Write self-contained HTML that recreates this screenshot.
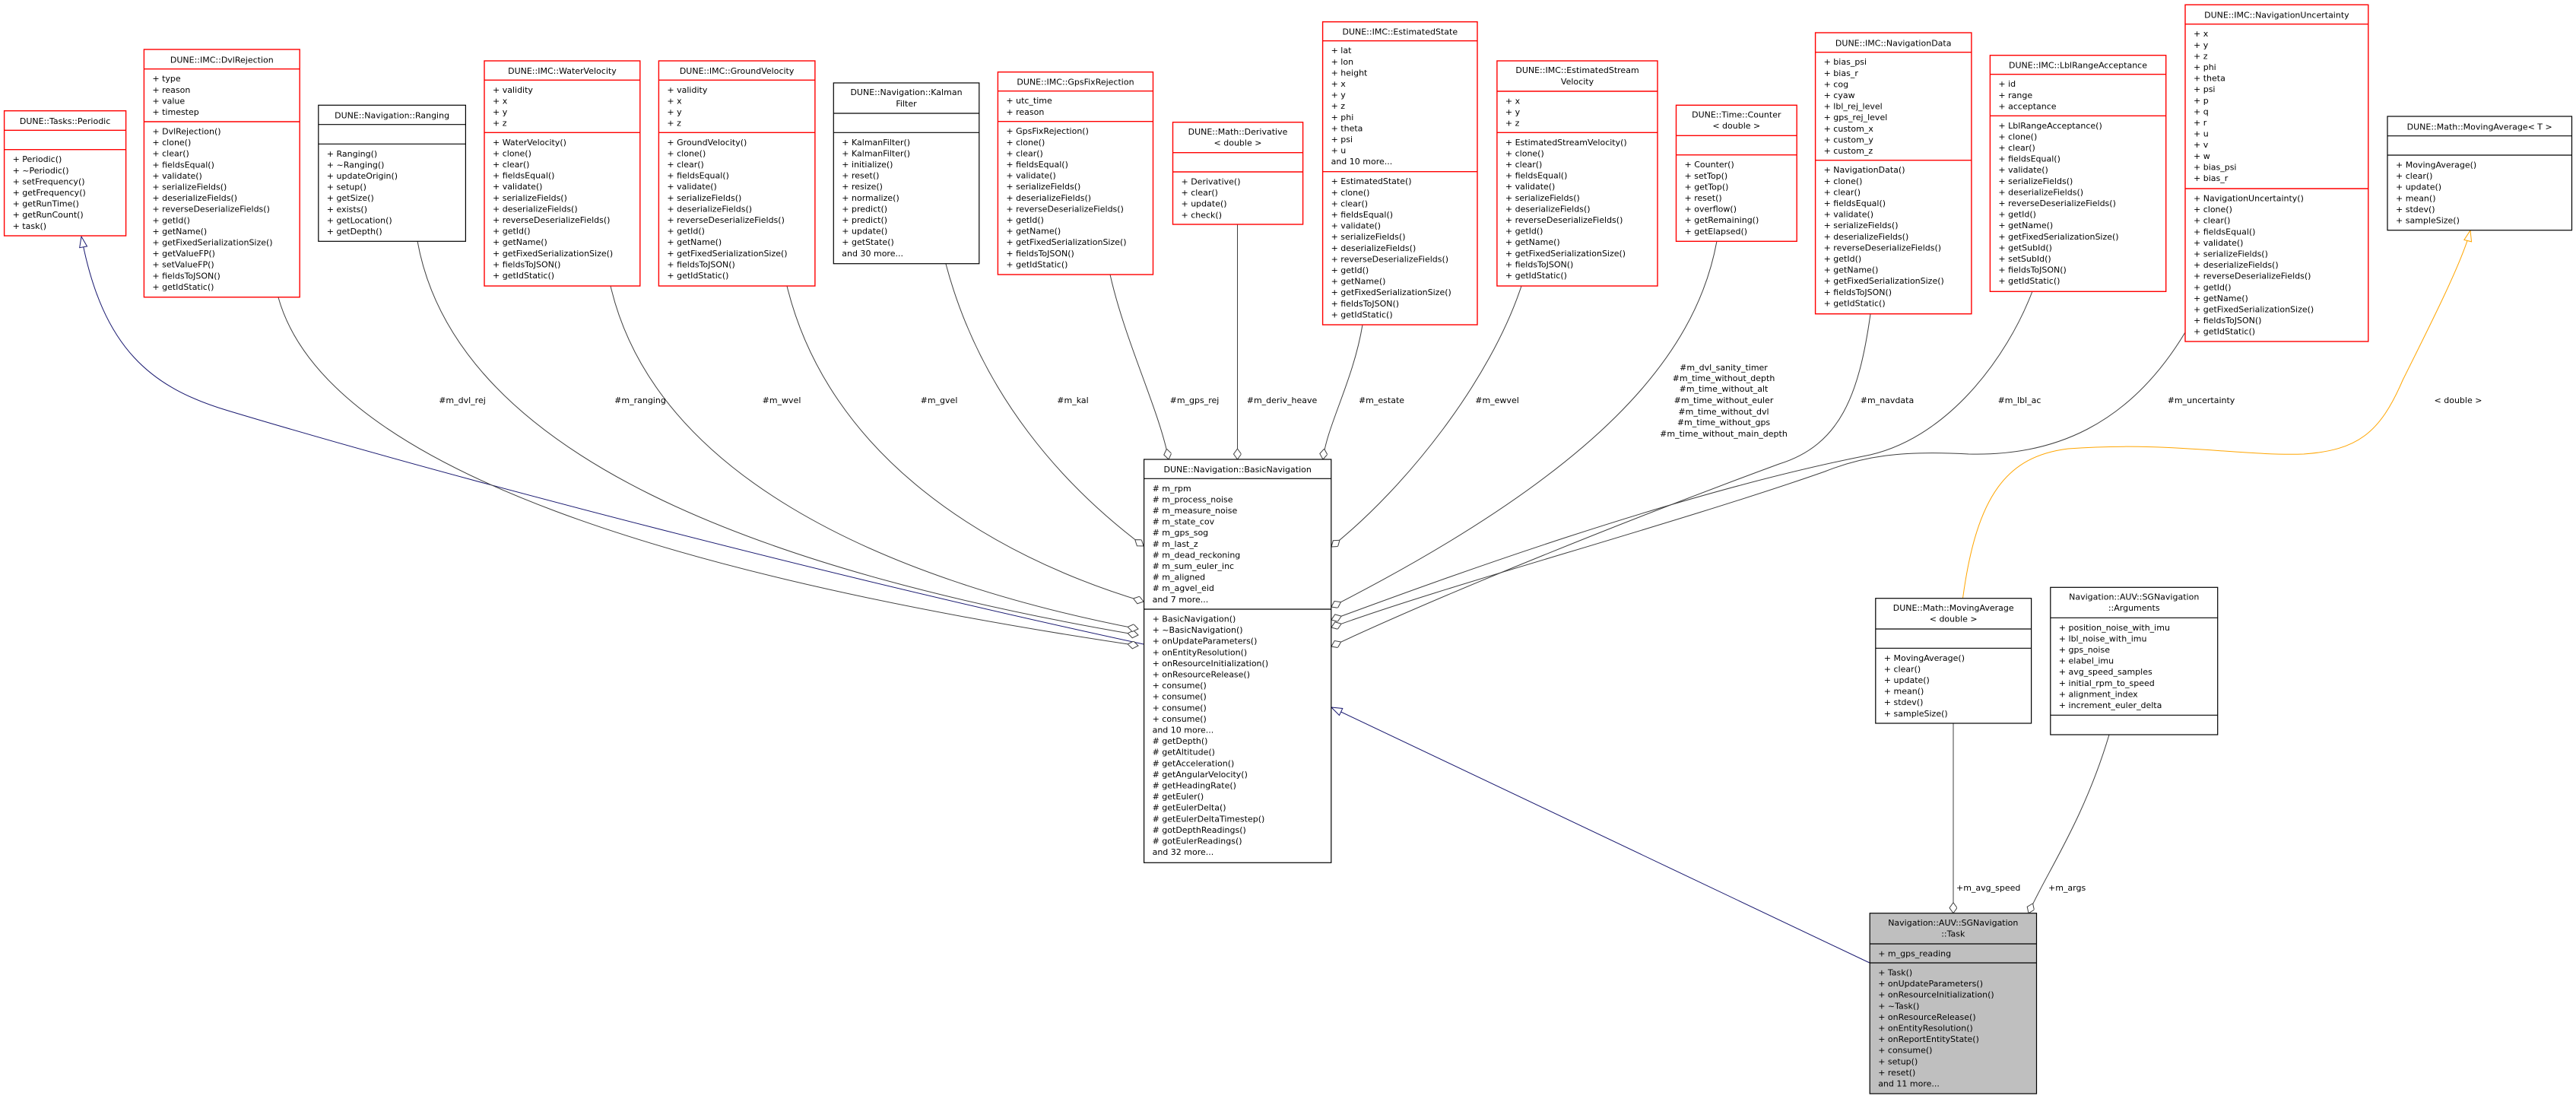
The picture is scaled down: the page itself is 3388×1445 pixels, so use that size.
<!DOCTYPE html>
<html><head><meta charset="utf-8"><style>
html,body{margin:0;padding:0;background:#fff;}
svg{display:block;}
text{font-family:"DejaVu Sans","Liberation Sans",sans-serif;font-size:11px;fill:#000;}
.r{fill:#fff;stroke:#ff0000;stroke-width:1.4;}
.rl{stroke:#ff0000;stroke-width:1.4;}
.b{fill:#fff;stroke:#000;stroke-width:1.2;}
.bl{stroke:#000;stroke-width:1.2;}
.g{fill:#bfbfbf;stroke:#000;stroke-width:1.2;}
.c{fill:none;stroke:#404040;stroke-width:1;}
.n{fill:none;stroke:#191970;stroke-width:1;}
.o{fill:none;stroke:#ffa500;stroke-width:1;}
.m{text-anchor:middle;}
</style></head><body>
<svg width="3388" height="1445" viewBox="0 0 3388 1445" xmlns="http://www.w3.org/2000/svg">
<defs>
<marker id="dia" markerUnits="userSpaceOnUse" markerWidth="16" markerHeight="12" refX="14" refY="5" orient="auto" viewBox="0 0 16 12"><path d="M0,5 L7,0 L14,5 L7,10 Z" fill="#fff" stroke="#404040" stroke-width="1"/></marker>
<marker id="tri" markerUnits="userSpaceOnUse" markerWidth="16" markerHeight="14" refX="15" refY="6" orient="auto" viewBox="0 0 16 14"><path d="M1,1 L15,6 L1,11 Z" fill="#fff" stroke="#191970" stroke-width="1"/></marker>
<marker id="otri" markerUnits="userSpaceOnUse" markerWidth="16" markerHeight="14" refX="15" refY="6" orient="auto" viewBox="0 0 16 14"><path d="M1,1 L15,6 L1,11 Z" fill="#fff" stroke="#ffa500" stroke-width="1"/></marker>
</defs>

<!-- connectors -->
<path class="n" d="M1504,847 C1100,760 600,630 300,540 C200,510 135,460 107,311" marker-end="url(#tri)"/>
<path class="c" d="M366,391 C430,620 900,760 1497,849" marker-end="url(#dia)"/>
<path class="c" d="M549,317 C600,600 1000,750 1497,835" marker-end="url(#dia)"/>
<path class="c" d="M803,376 C860,620 1150,760 1497,827" marker-end="url(#dia)"/>
<path class="c" d="M1035,376 C1090,600 1300,730 1504,791" marker-end="url(#dia)"/>
<path class="c" d="M1244,347 C1290,520 1400,640 1504,718" marker-end="url(#dia)"/>
<path class="c" d="M1460,361 C1480,450 1525,540 1537,604" marker-end="url(#dia)"/>
<path class="c" d="M1627.5,295 L1627.5,604" marker-end="url(#dia)"/>
<path class="c" d="M1792,427 C1780,500 1745,560 1740,604" marker-end="url(#dia)"/>
<path class="c" d="M2001,376 C1960,500 1850,640 1751,719" marker-end="url(#dia)"/>
<path class="c" d="M2258,317 C2230,470 2100,620 1751,798" marker-end="url(#dia)"/>
<path class="c" d="M2460,413 C2445,520 2420,585 2340,610 C2150,680 1900,780 1751,850" marker-end="url(#dia)"/>
<path class="c" d="M2673,383 C2640,470 2560,580 2450,600 C2200,650 1900,760 1751,815" marker-end="url(#dia)"/>
<path class="c" d="M2874,437 C2800,560 2700,600 2589,597 C2500,592 2450,600 2400,620 C2200,690 1900,770 1751,825" marker-end="url(#dia)"/>
<path class="o" d="M2581.5,786.7 C2600,650 2640,600 2720,590 C2850,580 2950,600 3030,597 C3100,592 3130,570 3160,500 C3200,420 3240,340 3249,303" marker-end="url(#otri)"/>
<path class="c" d="M2569,951 L2569,1200.7" marker-end="url(#dia)"/>
<path class="c" d="M2774,966 C2740,1080 2690,1150 2668,1200.7" marker-end="url(#dia)"/>
<path class="n" d="M2459,1266 L1751,930" marker-end="url(#tri)"/>

<!-- edge labels -->
<g class="m">
<text x="608" y="530" class="m">#m_dvl_rej</text>
<text x="842" y="530" class="m">#m_ranging</text>
<text x="1028" y="530" class="m">#m_wvel</text>
<text x="1235" y="530" class="m">#m_gvel</text>
<text x="1411" y="530" class="m">#m_kal</text>
<text x="1571" y="530" class="m">#m_gps_rej</text>
<text x="1686" y="530" class="m">#m_deriv_heave</text>
<text x="1817" y="530" class="m">#m_estate</text>
<text x="1969" y="530" class="m">#m_ewvel</text>
<text x="2267" y="487" class="m">#m_dvl_sanity_timer</text>
<text x="2267" y="501" class="m">#m_time_without_depth</text>
<text x="2267" y="515" class="m">#m_time_without_alt</text>
<text x="2267" y="530" class="m">#m_time_without_euler</text>
<text x="2267" y="545" class="m">#m_time_without_dvl</text>
<text x="2267" y="559" class="m">#m_time_without_gps</text>
<text x="2267" y="574" class="m">#m_time_without_main_depth</text>
<text x="2482" y="530" class="m">#m_navdata</text>
<text x="2656" y="530" class="m">#m_lbl_ac</text>
<text x="2895" y="530" class="m">#m_uncertainty</text>
<text x="3233" y="530" class="m">&lt; double &gt;</text>
</g>
<text x="2573" y="1171">+m_avg_speed</text>
<text x="2694" y="1171">+m_args</text>

<!-- Periodic -->
<rect class="r" x="5.6" y="145.7" width="160" height="164.3"/>
<line class="rl" x1="5.6" y1="171.3" x2="165.6" y2="171.3"/><line class="rl" x1="5.6" y1="196.7" x2="165.6" y2="196.7"/>
<text x="85.6" y="163" class="m">DUNE::Tasks::Periodic</text>
<text y="213.2"><tspan x="16.6">+ Periodic()</tspan><tspan x="16.6" dy="14.6">+ ~Periodic()</tspan><tspan x="16.6" dy="14.6">+ setFrequency()</tspan><tspan x="16.6" dy="14.6">+ getFrequency()</tspan><tspan x="16.6" dy="14.6">+ getRunTime()</tspan><tspan x="16.6" dy="14.6">+ getRunCount()</tspan><tspan x="16.6" dy="14.6">+ task()</tspan></text>

<!-- DvlRejection -->
<rect class="r" x="189.4" y="65" width="204.8" height="325.7"/>
<line class="rl" x1="189.4" y1="90.7" x2="394.2" y2="90.7"/><line class="rl" x1="189.4" y1="160" x2="394.2" y2="160"/>
<text x="291.8" y="82.3" class="m">DUNE::IMC::DvlRejection</text>
<text y="107.2"><tspan x="200.4">+ type</tspan><tspan x="200.4" dy="14.6">+ reason</tspan><tspan x="200.4" dy="14.6">+ value</tspan><tspan x="200.4" dy="14.6">+ timestep</tspan></text>
<text y="176.5"><tspan x="200.4">+ DvlRejection()</tspan><tspan x="200.4" dy="14.6">+ clone()</tspan><tspan x="200.4" dy="14.6">+ clear()</tspan><tspan x="200.4" dy="14.6">+ fieldsEqual()</tspan><tspan x="200.4" dy="14.6">+ validate()</tspan><tspan x="200.4" dy="14.6">+ serializeFields()</tspan><tspan x="200.4" dy="14.6">+ deserializeFields()</tspan><tspan x="200.4" dy="14.6">+ reverseDeserializeFields()</tspan><tspan x="200.4" dy="14.6">+ getId()</tspan><tspan x="200.4" dy="14.6">+ getName()</tspan><tspan x="200.4" dy="14.6">+ getFixedSerializationSize()</tspan><tspan x="200.4" dy="14.6">+ getValueFP()</tspan><tspan x="200.4" dy="14.6">+ setValueFP()</tspan><tspan x="200.4" dy="14.6">+ fieldsToJSON()</tspan><tspan x="200.4" dy="14.6">+ getIdStatic()</tspan></text>

<!-- Ranging -->
<rect class="b" x="418.8" y="138.3" width="193.6" height="179"/>
<line class="bl" x1="418.8" y1="163.7" x2="612.4" y2="163.7"/><line class="bl" x1="418.8" y1="189.3" x2="612.4" y2="189.3"/>
<text x="515.6" y="155.5" class="m">DUNE::Navigation::Ranging</text>
<text y="205.8"><tspan x="429.8">+ Ranging()</tspan><tspan x="429.8" dy="14.6">+ ~Ranging()</tspan><tspan x="429.8" dy="14.6">+ updateOrigin()</tspan><tspan x="429.8" dy="14.6">+ setup()</tspan><tspan x="429.8" dy="14.6">+ getSize()</tspan><tspan x="429.8" dy="14.6">+ exists()</tspan><tspan x="429.8" dy="14.6">+ getLocation()</tspan><tspan x="429.8" dy="14.6">+ getDepth()</tspan></text>

<!-- WaterVelocity -->
<rect class="r" x="637" y="80" width="204.8" height="296"/>
<line class="rl" x1="637" y1="105.3" x2="841.8" y2="105.3"/><line class="rl" x1="637" y1="174.3" x2="841.8" y2="174.3"/>
<text x="739.4" y="97.2" class="m">DUNE::IMC::WaterVelocity</text>
<text y="121.8"><tspan x="648">+ validity</tspan><tspan x="648" dy="14.6">+ x</tspan><tspan x="648" dy="14.6">+ y</tspan><tspan x="648" dy="14.6">+ z</tspan></text>
<text y="190.8"><tspan x="648">+ WaterVelocity()</tspan><tspan x="648" dy="14.6">+ clone()</tspan><tspan x="648" dy="14.6">+ clear()</tspan><tspan x="648" dy="14.6">+ fieldsEqual()</tspan><tspan x="648" dy="14.6">+ validate()</tspan><tspan x="648" dy="14.6">+ serializeFields()</tspan><tspan x="648" dy="14.6">+ deserializeFields()</tspan><tspan x="648" dy="14.6">+ reverseDeserializeFields()</tspan><tspan x="648" dy="14.6">+ getId()</tspan><tspan x="648" dy="14.6">+ getName()</tspan><tspan x="648" dy="14.6">+ getFixedSerializationSize()</tspan><tspan x="648" dy="14.6">+ fieldsToJSON()</tspan><tspan x="648" dy="14.6">+ getIdStatic()</tspan></text>

<!-- GroundVelocity -->
<rect class="r" x="866.4" y="80" width="205.5" height="296"/>
<line class="rl" x1="866.4" y1="105.3" x2="1071.9" y2="105.3"/><line class="rl" x1="866.4" y1="174.3" x2="1071.9" y2="174.3"/>
<text x="969.1" y="97.2" class="m">DUNE::IMC::GroundVelocity</text>
<text y="121.8"><tspan x="877.4">+ validity</tspan><tspan x="877.4" dy="14.6">+ x</tspan><tspan x="877.4" dy="14.6">+ y</tspan><tspan x="877.4" dy="14.6">+ z</tspan></text>
<text y="190.8"><tspan x="877.4">+ GroundVelocity()</tspan><tspan x="877.4" dy="14.6">+ clone()</tspan><tspan x="877.4" dy="14.6">+ clear()</tspan><tspan x="877.4" dy="14.6">+ fieldsEqual()</tspan><tspan x="877.4" dy="14.6">+ validate()</tspan><tspan x="877.4" dy="14.6">+ serializeFields()</tspan><tspan x="877.4" dy="14.6">+ deserializeFields()</tspan><tspan x="877.4" dy="14.6">+ reverseDeserializeFields()</tspan><tspan x="877.4" dy="14.6">+ getId()</tspan><tspan x="877.4" dy="14.6">+ getName()</tspan><tspan x="877.4" dy="14.6">+ getFixedSerializationSize()</tspan><tspan x="877.4" dy="14.6">+ fieldsToJSON()</tspan><tspan x="877.4" dy="14.6">+ getIdStatic()</tspan></text>

<!-- KalmanFilter -->
<rect class="b" x="1096.3" y="109" width="191.5" height="237.7"/>
<line class="bl" x1="1096.3" y1="149" x2="1287.8" y2="149"/><line class="bl" x1="1096.3" y1="174.3" x2="1287.8" y2="174.3"/>
<text x="1192" y="125.2" class="m">DUNE::Navigation::Kalman</text>
<text x="1192" y="139.8" class="m">Filter</text>
<text y="190.8"><tspan x="1107.3">+ KalmanFilter()</tspan><tspan x="1107.3" dy="14.6">+ KalmanFilter()</tspan><tspan x="1107.3" dy="14.6">+ initialize()</tspan><tspan x="1107.3" dy="14.6">+ reset()</tspan><tspan x="1107.3" dy="14.6">+ resize()</tspan><tspan x="1107.3" dy="14.6">+ normalize()</tspan><tspan x="1107.3" dy="14.6">+ predict()</tspan><tspan x="1107.3" dy="14.6">+ predict()</tspan><tspan x="1107.3" dy="14.6">+ update()</tspan><tspan x="1107.3" dy="14.6">+ getState()</tspan><tspan x="1107.3" dy="14.6">and 30 more...</tspan></text>

<!-- GpsFixRejection -->
<rect class="r" x="1312.4" y="94.7" width="204.1" height="266.3"/>
<line class="rl" x1="1312.4" y1="119.7" x2="1516.5" y2="119.7"/><line class="rl" x1="1312.4" y1="159.7" x2="1516.5" y2="159.7"/>
<text x="1414.5" y="111.7" class="m">DUNE::IMC::GpsFixRejection</text>
<text y="136.2"><tspan x="1323.4">+ utc_time</tspan><tspan x="1323.4" dy="14.6">+ reason</tspan></text>
<text y="176.2"><tspan x="1323.4">+ GpsFixRejection()</tspan><tspan x="1323.4" dy="14.6">+ clone()</tspan><tspan x="1323.4" dy="14.6">+ clear()</tspan><tspan x="1323.4" dy="14.6">+ fieldsEqual()</tspan><tspan x="1323.4" dy="14.6">+ validate()</tspan><tspan x="1323.4" dy="14.6">+ serializeFields()</tspan><tspan x="1323.4" dy="14.6">+ deserializeFields()</tspan><tspan x="1323.4" dy="14.6">+ reverseDeserializeFields()</tspan><tspan x="1323.4" dy="14.6">+ getId()</tspan><tspan x="1323.4" dy="14.6">+ getName()</tspan><tspan x="1323.4" dy="14.6">+ getFixedSerializationSize()</tspan><tspan x="1323.4" dy="14.6">+ fieldsToJSON()</tspan><tspan x="1323.4" dy="14.6">+ getIdStatic()</tspan></text>

<!-- Derivative -->
<rect class="r" x="1542.5" y="160.7" width="171.1" height="134.3"/>
<line class="rl" x1="1542.5" y1="200.7" x2="1713.6" y2="200.7"/><line class="rl" x1="1542.5" y1="226" x2="1713.6" y2="226"/>
<text x="1628" y="176.9" class="m">DUNE::Math::Derivative</text>
<text x="1628" y="191.5" class="m">&lt; double &gt;</text>
<text y="242.5"><tspan x="1553.5">+ Derivative()</tspan><tspan x="1553.5" dy="14.6">+ clear()</tspan><tspan x="1553.5" dy="14.6">+ update()</tspan><tspan x="1553.5" dy="14.6">+ check()</tspan></text>

<!-- EstimatedState -->
<rect class="r" x="1739.6" y="28.7" width="203.4" height="398.3"/>
<line class="rl" x1="1739.6" y1="53.7" x2="1943" y2="53.7"/><line class="rl" x1="1739.6" y1="225.7" x2="1943" y2="225.7"/>
<text x="1841.3" y="45.7" class="m">DUNE::IMC::EstimatedState</text>
<text y="70.2"><tspan x="1750.6">+ lat</tspan><tspan x="1750.6" dy="14.6">+ lon</tspan><tspan x="1750.6" dy="14.6">+ height</tspan><tspan x="1750.6" dy="14.6">+ x</tspan><tspan x="1750.6" dy="14.6">+ y</tspan><tspan x="1750.6" dy="14.6">+ z</tspan><tspan x="1750.6" dy="14.6">+ phi</tspan><tspan x="1750.6" dy="14.6">+ theta</tspan><tspan x="1750.6" dy="14.6">+ psi</tspan><tspan x="1750.6" dy="14.6">+ u</tspan><tspan x="1750.6" dy="14.6">and 10 more...</tspan></text>
<text y="242.2"><tspan x="1750.6">+ EstimatedState()</tspan><tspan x="1750.6" dy="14.6">+ clone()</tspan><tspan x="1750.6" dy="14.6">+ clear()</tspan><tspan x="1750.6" dy="14.6">+ fieldsEqual()</tspan><tspan x="1750.6" dy="14.6">+ validate()</tspan><tspan x="1750.6" dy="14.6">+ serializeFields()</tspan><tspan x="1750.6" dy="14.6">+ deserializeFields()</tspan><tspan x="1750.6" dy="14.6">+ reverseDeserializeFields()</tspan><tspan x="1750.6" dy="14.6">+ getId()</tspan><tspan x="1750.6" dy="14.6">+ getName()</tspan><tspan x="1750.6" dy="14.6">+ getFixedSerializationSize()</tspan><tspan x="1750.6" dy="14.6">+ fieldsToJSON()</tspan><tspan x="1750.6" dy="14.6">+ getIdStatic()</tspan></text>

<!-- EstimatedStreamVelocity -->
<rect class="r" x="1968.9" y="80" width="211.1" height="296"/>
<line class="rl" x1="1968.9" y1="120" x2="2180" y2="120"/><line class="rl" x1="1968.9" y1="174.3" x2="2180" y2="174.3"/>
<text x="2074.5" y="96.2" class="m">DUNE::IMC::EstimatedStream</text>
<text x="2074.5" y="110.8" class="m">Velocity</text>
<text y="136.5"><tspan x="1979.9">+ x</tspan><tspan x="1979.9" dy="14.6">+ y</tspan><tspan x="1979.9" dy="14.6">+ z</tspan></text>
<text y="190.8"><tspan x="1979.9">+ EstimatedStreamVelocity()</tspan><tspan x="1979.9" dy="14.6">+ clone()</tspan><tspan x="1979.9" dy="14.6">+ clear()</tspan><tspan x="1979.9" dy="14.6">+ fieldsEqual()</tspan><tspan x="1979.9" dy="14.6">+ validate()</tspan><tspan x="1979.9" dy="14.6">+ serializeFields()</tspan><tspan x="1979.9" dy="14.6">+ deserializeFields()</tspan><tspan x="1979.9" dy="14.6">+ reverseDeserializeFields()</tspan><tspan x="1979.9" dy="14.6">+ getId()</tspan><tspan x="1979.9" dy="14.6">+ getName()</tspan><tspan x="1979.9" dy="14.6">+ getFixedSerializationSize()</tspan><tspan x="1979.9" dy="14.6">+ fieldsToJSON()</tspan><tspan x="1979.9" dy="14.6">+ getIdStatic()</tspan></text>

<!-- Counter -->
<rect class="r" x="2204.5" y="138.3" width="158.7" height="179"/>
<line class="rl" x1="2204.5" y1="178.3" x2="2363.2" y2="178.3"/><line class="rl" x1="2204.5" y1="203.7" x2="2363.2" y2="203.7"/>
<text x="2283.8" y="154.5" class="m">DUNE::Time::Counter</text>
<text x="2283.8" y="169.1" class="m">&lt; double &gt;</text>
<text y="220.2"><tspan x="2215.5">+ Counter()</tspan><tspan x="2215.5" dy="14.6">+ setTop()</tspan><tspan x="2215.5" dy="14.6">+ getTop()</tspan><tspan x="2215.5" dy="14.6">+ reset()</tspan><tspan x="2215.5" dy="14.6">+ overflow()</tspan><tspan x="2215.5" dy="14.6">+ getRemaining()</tspan><tspan x="2215.5" dy="14.6">+ getElapsed()</tspan></text>

<!-- NavigationData -->
<rect class="r" x="2387.6" y="43" width="205.3" height="369.7"/>
<line class="rl" x1="2387.6" y1="68.7" x2="2592.9" y2="68.7"/><line class="rl" x1="2387.6" y1="210.7" x2="2592.9" y2="210.7"/>
<text x="2490.2" y="60.3" class="m">DUNE::IMC::NavigationData</text>
<text y="85.2"><tspan x="2398.6">+ bias_psi</tspan><tspan x="2398.6" dy="14.6">+ bias_r</tspan><tspan x="2398.6" dy="14.6">+ cog</tspan><tspan x="2398.6" dy="14.6">+ cyaw</tspan><tspan x="2398.6" dy="14.6">+ lbl_rej_level</tspan><tspan x="2398.6" dy="14.6">+ gps_rej_level</tspan><tspan x="2398.6" dy="14.6">+ custom_x</tspan><tspan x="2398.6" dy="14.6">+ custom_y</tspan><tspan x="2398.6" dy="14.6">+ custom_z</tspan></text>
<text y="227.2"><tspan x="2398.6">+ NavigationData()</tspan><tspan x="2398.6" dy="14.6">+ clone()</tspan><tspan x="2398.6" dy="14.6">+ clear()</tspan><tspan x="2398.6" dy="14.6">+ fieldsEqual()</tspan><tspan x="2398.6" dy="14.6">+ validate()</tspan><tspan x="2398.6" dy="14.6">+ serializeFields()</tspan><tspan x="2398.6" dy="14.6">+ deserializeFields()</tspan><tspan x="2398.6" dy="14.6">+ reverseDeserializeFields()</tspan><tspan x="2398.6" dy="14.6">+ getId()</tspan><tspan x="2398.6" dy="14.6">+ getName()</tspan><tspan x="2398.6" dy="14.6">+ getFixedSerializationSize()</tspan><tspan x="2398.6" dy="14.6">+ fieldsToJSON()</tspan><tspan x="2398.6" dy="14.6">+ getIdStatic()</tspan></text>

<!-- LblRangeAcceptance -->
<rect class="r" x="2617.4" y="72.7" width="231.3" height="310.6"/>
<line class="rl" x1="2617.4" y1="97.7" x2="2848.7" y2="97.7"/><line class="rl" x1="2617.4" y1="152.3" x2="2848.7" y2="152.3"/>
<text x="2733" y="89.7" class="m">DUNE::IMC::LblRangeAcceptance</text>
<text y="114.2"><tspan x="2628.4">+ id</tspan><tspan x="2628.4" dy="14.6">+ range</tspan><tspan x="2628.4" dy="14.6">+ acceptance</tspan></text>
<text y="168.8"><tspan x="2628.4">+ LblRangeAcceptance()</tspan><tspan x="2628.4" dy="14.6">+ clone()</tspan><tspan x="2628.4" dy="14.6">+ clear()</tspan><tspan x="2628.4" dy="14.6">+ fieldsEqual()</tspan><tspan x="2628.4" dy="14.6">+ validate()</tspan><tspan x="2628.4" dy="14.6">+ serializeFields()</tspan><tspan x="2628.4" dy="14.6">+ deserializeFields()</tspan><tspan x="2628.4" dy="14.6">+ reverseDeserializeFields()</tspan><tspan x="2628.4" dy="14.6">+ getId()</tspan><tspan x="2628.4" dy="14.6">+ getName()</tspan><tspan x="2628.4" dy="14.6">+ getFixedSerializationSize()</tspan><tspan x="2628.4" dy="14.6">+ getSubId()</tspan><tspan x="2628.4" dy="14.6">+ setSubId()</tspan><tspan x="2628.4" dy="14.6">+ fieldsToJSON()</tspan><tspan x="2628.4" dy="14.6">+ getIdStatic()</tspan></text>

<!-- NavigationUncertainty -->
<rect class="r" x="2874" y="6.3" width="240.8" height="442.7"/>
<line class="rl" x1="2874" y1="31.7" x2="3114.8" y2="31.7"/><line class="rl" x1="2874" y1="248" x2="3114.8" y2="248"/>
<text x="2994.4" y="23.5" class="m">DUNE::IMC::NavigationUncertainty</text>
<text y="48.2"><tspan x="2885">+ x</tspan><tspan x="2885" dy="14.6">+ y</tspan><tspan x="2885" dy="14.6">+ z</tspan><tspan x="2885" dy="14.6">+ phi</tspan><tspan x="2885" dy="14.6">+ theta</tspan><tspan x="2885" dy="14.6">+ psi</tspan><tspan x="2885" dy="14.6">+ p</tspan><tspan x="2885" dy="14.6">+ q</tspan><tspan x="2885" dy="14.6">+ r</tspan><tspan x="2885" dy="14.6">+ u</tspan><tspan x="2885" dy="14.6">+ v</tspan><tspan x="2885" dy="14.6">+ w</tspan><tspan x="2885" dy="14.6">+ bias_psi</tspan><tspan x="2885" dy="14.6">+ bias_r</tspan></text>
<text y="264.5"><tspan x="2885">+ NavigationUncertainty()</tspan><tspan x="2885" dy="14.6">+ clone()</tspan><tspan x="2885" dy="14.6">+ clear()</tspan><tspan x="2885" dy="14.6">+ fieldsEqual()</tspan><tspan x="2885" dy="14.6">+ validate()</tspan><tspan x="2885" dy="14.6">+ serializeFields()</tspan><tspan x="2885" dy="14.6">+ deserializeFields()</tspan><tspan x="2885" dy="14.6">+ reverseDeserializeFields()</tspan><tspan x="2885" dy="14.6">+ getId()</tspan><tspan x="2885" dy="14.6">+ getName()</tspan><tspan x="2885" dy="14.6">+ getFixedSerializationSize()</tspan><tspan x="2885" dy="14.6">+ fieldsToJSON()</tspan><tspan x="2885" dy="14.6">+ getIdStatic()</tspan></text>

<!-- MovingAverage<T> -->
<rect class="b" x="3140" y="153" width="242.5" height="149.7"/>
<line class="bl" x1="3140" y1="178.7" x2="3382.5" y2="178.7"/><line class="bl" x1="3140" y1="204" x2="3382.5" y2="204"/>
<text x="3261.2" y="170.3" class="m">DUNE::Math::MovingAverage&lt; T &gt;</text>
<text y="220.5"><tspan x="3151">+ MovingAverage()</tspan><tspan x="3151" dy="14.6">+ clear()</tspan><tspan x="3151" dy="14.6">+ update()</tspan><tspan x="3151" dy="14.6">+ mean()</tspan><tspan x="3151" dy="14.6">+ stdev()</tspan><tspan x="3151" dy="14.6">+ sampleSize()</tspan></text>

<!-- BasicNavigation -->
<rect class="b" x="1504.6" y="604" width="246.2" height="530.3"/>
<line class="bl" x1="1504.6" y1="629.3" x2="1750.8" y2="629.3"/><line class="bl" x1="1504.6" y1="801" x2="1750.8" y2="801"/>
<text x="1627.7" y="621.2" class="m">DUNE::Navigation::BasicNavigation</text>
<text y="645.8"><tspan x="1515.6"># m_rpm</tspan><tspan x="1515.6" dy="14.6"># m_process_noise</tspan><tspan x="1515.6" dy="14.6"># m_measure_noise</tspan><tspan x="1515.6" dy="14.6"># m_state_cov</tspan><tspan x="1515.6" dy="14.6"># m_gps_sog</tspan><tspan x="1515.6" dy="14.6"># m_last_z</tspan><tspan x="1515.6" dy="14.6"># m_dead_reckoning</tspan><tspan x="1515.6" dy="14.6"># m_sum_euler_inc</tspan><tspan x="1515.6" dy="14.6"># m_aligned</tspan><tspan x="1515.6" dy="14.6"># m_agvel_eid</tspan><tspan x="1515.6" dy="14.6">and 7 more...</tspan></text>
<text y="817.5"><tspan x="1515.6">+ BasicNavigation()</tspan><tspan x="1515.6" dy="14.6">+ ~BasicNavigation()</tspan><tspan x="1515.6" dy="14.6">+ onUpdateParameters()</tspan><tspan x="1515.6" dy="14.6">+ onEntityResolution()</tspan><tspan x="1515.6" dy="14.6">+ onResourceInitialization()</tspan><tspan x="1515.6" dy="14.6">+ onResourceRelease()</tspan><tspan x="1515.6" dy="14.6">+ consume()</tspan><tspan x="1515.6" dy="14.6">+ consume()</tspan><tspan x="1515.6" dy="14.6">+ consume()</tspan><tspan x="1515.6" dy="14.6">+ consume()</tspan><tspan x="1515.6" dy="14.6">and 10 more...</tspan><tspan x="1515.6" dy="14.6"># getDepth()</tspan><tspan x="1515.6" dy="14.6"># getAltitude()</tspan><tspan x="1515.6" dy="14.6"># getAcceleration()</tspan><tspan x="1515.6" dy="14.6"># getAngularVelocity()</tspan><tspan x="1515.6" dy="14.6"># getHeadingRate()</tspan><tspan x="1515.6" dy="14.6"># getEuler()</tspan><tspan x="1515.6" dy="14.6"># getEulerDelta()</tspan><tspan x="1515.6" dy="14.6"># getEulerDeltaTimestep()</tspan><tspan x="1515.6" dy="14.6"># gotDepthReadings()</tspan><tspan x="1515.6" dy="14.6"># gotEulerReadings()</tspan><tspan x="1515.6" dy="14.6">and 32 more...</tspan></text>

<!-- MovingAverage<double> -->
<rect class="b" x="2466.8" y="786.7" width="204.8" height="164.3"/>
<line class="bl" x1="2466.8" y1="827" x2="2671.6" y2="827"/><line class="bl" x1="2466.8" y1="852.3" x2="2671.6" y2="852.3"/>
<text x="2569.2" y="802.9" class="m">DUNE::Math::MovingAverage</text>
<text x="2569.2" y="817.5" class="m">&lt; double &gt;</text>
<text y="868.8"><tspan x="2477.8">+ MovingAverage()</tspan><tspan x="2477.8" dy="14.6">+ clear()</tspan><tspan x="2477.8" dy="14.6">+ update()</tspan><tspan x="2477.8" dy="14.6">+ mean()</tspan><tspan x="2477.8" dy="14.6">+ stdev()</tspan><tspan x="2477.8" dy="14.6">+ sampleSize()</tspan></text>

<!-- Arguments -->
<rect class="b" x="2696.8" y="772.3" width="219.9" height="193.7"/>
<line class="bl" x1="2696.8" y1="812.3" x2="2916.7" y2="812.3"/><line class="bl" x1="2696.8" y1="940.3" x2="2916.7" y2="940.3"/>
<text x="2806.7" y="788.5" class="m">Navigation::AUV::SGNavigation</text>
<text x="2806.7" y="803.1" class="m">::Arguments</text>
<text y="828.8"><tspan x="2707.8">+ position_noise_with_imu</tspan><tspan x="2707.8" dy="14.6">+ lbl_noise_with_imu</tspan><tspan x="2707.8" dy="14.6">+ gps_noise</tspan><tspan x="2707.8" dy="14.6">+ elabel_imu</tspan><tspan x="2707.8" dy="14.6">+ avg_speed_samples</tspan><tspan x="2707.8" dy="14.6">+ initial_rpm_to_speed</tspan><tspan x="2707.8" dy="14.6">+ alignment_index</tspan><tspan x="2707.8" dy="14.6">+ increment_euler_delta</tspan></text>

<!-- Task -->
<rect class="g" x="2459.2" y="1200.7" width="219.3" height="237.3"/>
<line class="bl" x1="2459.2" y1="1241" x2="2678.5" y2="1241"/><line class="bl" x1="2459.2" y1="1266" x2="2678.5" y2="1266"/>
<text x="2568.8" y="1216.9" class="m">Navigation::AUV::SGNavigation</text>
<text x="2568.8" y="1231.5" class="m">::Task</text>
<text y="1257.5"><tspan x="2470.2">+ m_gps_reading</tspan></text>
<text y="1282.5"><tspan x="2470.2">+ Task()</tspan><tspan x="2470.2" dy="14.6">+ onUpdateParameters()</tspan><tspan x="2470.2" dy="14.6">+ onResourceInitialization()</tspan><tspan x="2470.2" dy="14.6">+ ~Task()</tspan><tspan x="2470.2" dy="14.6">+ onResourceRelease()</tspan><tspan x="2470.2" dy="14.6">+ onEntityResolution()</tspan><tspan x="2470.2" dy="14.6">+ onReportEntityState()</tspan><tspan x="2470.2" dy="14.6">+ consume()</tspan><tspan x="2470.2" dy="14.6">+ setup()</tspan><tspan x="2470.2" dy="14.6">+ reset()</tspan><tspan x="2470.2" dy="14.6">and 11 more...</tspan></text>
</svg>
</body></html>
